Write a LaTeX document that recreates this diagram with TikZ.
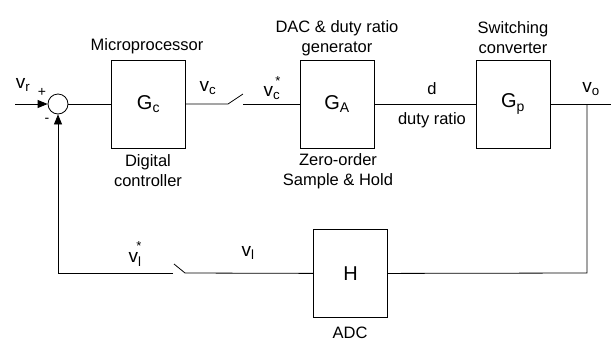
\documentclass[tikz,border=0pt]{standalone}
\usepackage{fontspec}
\setmainfont{Liberation Sans}
\usetikzlibrary{arrows.meta}

\newcommand{\vstar}[1]{v\textsubscript{#1}\llap{\raisebox{1.15ex}{\fontsize{13}{13}\selectfont *}}}

\begin{document}
\begin{tikzpicture}[x=1pt,y=-1pt,line width=0.8pt,
  block/.style={draw, minimum width=74pt, minimum height=88pt, inner sep=0pt, font=\fontsize{20}{22}\selectfont},
  sumcirc/.style={draw, circle, minimum size=20pt, inner sep=0pt},
  sig/.style={font=\fontsize{19}{21}\selectfont},
  txt/.style={font=\fontsize{16.5}{20}\selectfont, align=center},
  arr/.style={-{Triangle[length=10pt,width=8pt]}}]
  \useasboundingbox (0,0) rectangle (611,341);

  % blocks
  \node[sumcirc] (sum) at (58,104) {};
  \node[block] (Gc) at (148.5,104) {G\textsubscript{c}};
  \node[block] (GA) at (337,104) {G\textsubscript{A}};
  \node[block] (Gp) at (513,104) {G\textsubscript{p}};
  \node[block] (H) at (350.5,273.5) {H};

  \coordinate (in) at (15,104);
  \coordinate (swA) at (228,104);
  \coordinate (swB) at (243,94);
  \coordinate (swC) at (243,104);
  \coordinate (tap) at (587,104);
  \coordinate (out) at (611,104);
  \coordinate (fbR) at (587,273);
  \coordinate (swD) at (185,273);
  \coordinate (swE) at (174,264);
  \coordinate (swF) at (173,273);
  \coordinate (fbL) at (58,273);

  % forward path
  \draw[arr] (in) -- (sum);
  \draw (sum) -- (Gc);
  \draw (Gc) -- (swA) -- (swB);
  \draw (swC) -- (GA);
  \draw (GA) -- (Gp);
  \draw (Gp) -- (out);

  % feedback path
  \draw (tap) -- (fbR) -- (H);
  \draw (H) -- (swD) -- (swE);
  \draw[arr] (swF) -- (fbL) -- (sum);

  % signals
  \node[sig] (vr) at (23,85) {v\textsubscript{r}};
  \node[font=\fontsize{14}{15}\selectfont] (plus) at (42,92) {+};
  \node[font=\fontsize{14}{15}\selectfont] (minus) at (47,120) {-};
  \node[sig] (vc) at (208,88) {v\textsubscript{c}};
  \node[sig] (vcs) at (272,88) {\vstar{c}};
  \node[txt] (d) at (432,89) {d};
  \node[txt] (dr) at (432,120) {duty ratio};
  \node[sig] (vo) at (591,89) {v\textsubscript{o}};
  \node[sig] (vls) at (135,254) {\vstar{l}};
  \node[sig] (vl) at (248,253) {v\textsubscript{l}};

  % descriptions
  \node[txt] (micro) at (147,46) {Microprocessor};
  \node[txt] (dig) at (148,171) {Digital\\controller};
  \node[txt] (dac) at (337,38) {DAC \& duty ratio\\generator};
  \node[txt] (zoh) at (338,171) {Zero-order\\Sample \& Hold};
  \node[txt] (sw) at (513,38) {Switching\\converter};
  \node[txt] (adc) at (350,333) {ADC};
\end{tikzpicture}
\end{document}
